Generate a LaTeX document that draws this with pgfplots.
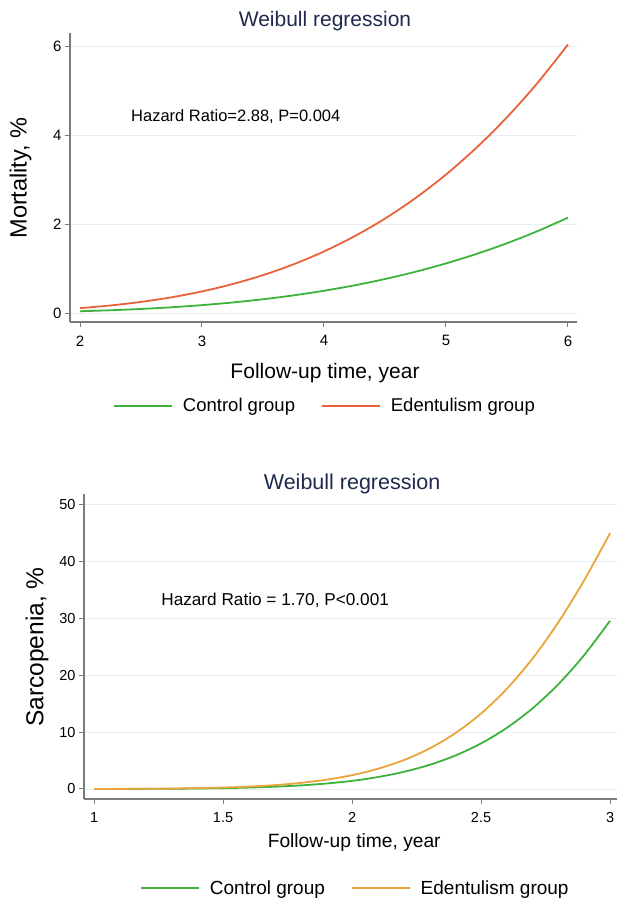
\documentclass[border=0pt]{standalone}
\usepackage{fontspec}
\setmainfont{Liberation Sans}
\usepackage{pgfplots}
\pgfplotsset{compat=1.18}
\definecolor{ctrl}{HTML}{3DB33D}
\definecolor{edred}{HTML}{E8623C}
\definecolor{edorg}{HTML}{E9A43C}
\definecolor{ttl}{HTML}{1E2A4E}
\definecolor{spine}{HTML}{7A7A7A}
\definecolor{gridc}{HTML}{E8EEEE}
\pgfplotsset{
 stata/.style={
  scale only axis,
  axis x line*=bottom, axis y line*=left,
  axis line style={spine, line width=1.4pt},
  every tick/.style={spine, line width=1pt},
  tick align=outside, major tick length=5pt,
  ymajorgrids, grid style={gridc, line width=0.8pt},
  /pgf/number format/assume math mode=true,
  xticklabel style={yshift=-5pt},
  every axis title shift=0pt,
  legend columns=2,
  legend style={draw=none, fill=none, /tikz/every even column/.append style={column sep=24pt}},
  legend image code/.code={\draw[#1] (0pt,0pt) -- (58pt,0pt); \path (66pt,0pt);},
  clip=false,
 }
}
\begin{document}
\begin{tikzpicture}
\useasboundingbox (0,0) rectangle (617pt,900pt);
% ---------------- top panel ----------------
\begin{axis}[stata,
  at={(70pt,578pt)}, anchor=south west, width=507pt, height=289pt,
  xmin=1.918, xmax=6.074, ymin=-0.2, ymax=6.31,
  xtick={2,3,4,5,6}, ytick={0,2,4,6},
  tick label style={font=\fontsize{15}{18}\selectfont},
  title={Weibull regression},
  title style={at={(0.503,1.040)}, anchor=center, font=\fontsize{21}{25}\selectfont, text=ttl},
  xlabel={Follow-up time, year},
  xlabel style={at={(0.503,-0.176)}, anchor=center, font=\fontsize{21}{25}\selectfont},
  ylabel={Mortality, \%},
  ylabel style={at={(-0.0976,0.498)}, anchor=center, font=\fontsize{23.5}{28}\selectfont},
  legend style={at={(0.503,-0.29)}, anchor=center, font=\fontsize{18.5}{22}\selectfont},
]
\addplot[ctrl, line width=1.8pt, smooth] coordinates {
(2,0.0421) (2.25,0.0642) (2.5,0.0936) (2.75,0.1317) (3,0.1798) (3.25,0.2395)
(3.5,0.3122) (3.75,0.3997) (4,0.5035) (4.25,0.6257) (4.5,0.7678) (4.75,0.9316)
(5,1.1193) (5.25,1.3330) (5.5,1.5744) (5.75,1.8462) (6,2.15)};
\addlegendentry{Control group}
\addplot[edred, line width=1.8pt, smooth] coordinates {
(2,0.1121) (2.25,0.1720) (2.5,0.2521) (2.75,0.3563) (3,0.4888) (3.25,0.6534)
(3.5,0.8549) (3.75,1.0987) (4,1.3885) (4.25,1.7309) (4.5,2.1290) (4.75,2.5912)
(5,3.1218) (5.25,3.7268) (5.5,4.4117) (5.75,5.1836) (6,6.05)};
\addlegendentry{Edentulism group}
\node[anchor=west, inner sep=0pt, font=\fontsize{16.5}{20}\selectfont] at (axis cs:2.418,4.427) {Hazard Ratio=2.88, P=0.004};
\end{axis}
% ---------------- bottom panel ----------------
\begin{axis}[stata,
  at={(84pt,101pt)}, anchor=south west, width=533pt, height=305pt,
  xmin=0.961, xmax=3.027, ymin=-1.76, ymax=51.9,
  xtick={1,1.5,2,2.5,3}, xticklabels={1,1.5,2,2.5,3}, ytick={0,10,20,30,40,50},
  tick label style={font=\fontsize{14.5}{17}\selectfont},
  title={Weibull regression},
  title style={at={(0.503,1.033)}, anchor=center, font=\fontsize{21.5}{25}\selectfont, text=ttl},
  xlabel={Follow-up time, year},
  xlabel style={at={(0.507,-0.144)}, anchor=center, font=\fontsize{19.2}{23}\selectfont},
  ylabel={Sarcopenia, \%},
  ylabel style={at={(-0.088,0.498)}, anchor=center, font=\fontsize{24.5}{29}\selectfont},
  legend style={at={(0.509,-0.292)}, anchor=center, font=\fontsize{19}{23}\selectfont},
]
\addplot[ctrl, line width=1.8pt, smooth] coordinates {
(1,0.006) (1.1,0.013) (1.2,0.026) (1.3,0.049) (1.4,0.087) (1.5,0.15) (1.6,0.25)
(1.7,0.40) (1.8,0.63) (1.9,0.96) (2.0,1.43) (2.1,2.10) (2.2,3.01) (2.3,4.24)
(2.4,5.88) (2.5,8.02) (2.6,10.76) (2.7,14.20) (2.8,18.45) (2.9,23.57) (3.0,29.60)};
\addlegendentry{Control group}
\addplot[edorg, line width=1.8pt, smooth] coordinates {
(1,0.01) (1.1,0.02) (1.2,0.04) (1.3,0.08) (1.4,0.15) (1.5,0.26) (1.6,0.42)
(1.7,0.68) (1.8,1.07) (1.9,1.63) (2.0,2.43) (2.1,3.55) (2.2,5.07) (2.3,7.12)
(2.4,9.81) (2.5,13.27) (2.6,17.63) (2.7,22.97) (2.8,29.35) (2.9,36.74) (3.0,45.01)};
\addlegendentry{Edentulism group}
\node[anchor=west, inner sep=0pt, font=\fontsize{17.2}{21}\selectfont] at (axis cs:1.26,33.1) {Hazard Ratio = 1.70, P<0.001};
\end{axis}
\end{tikzpicture}
\end{document}
